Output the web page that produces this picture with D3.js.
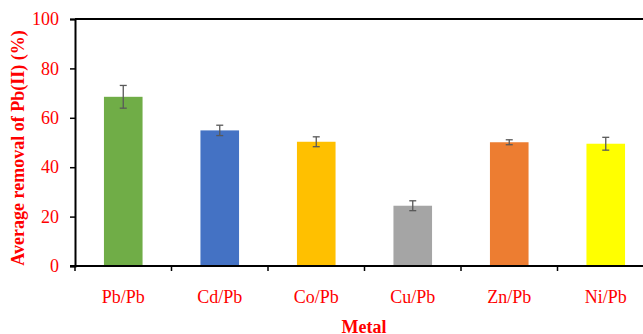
<!DOCTYPE html>
<html>
<head>
<meta charset="utf-8">
<script src="https://cdn.jsdelivr.net/npm/d3@7"></script>
<style>
  body { margin: 0; background: #fff; }
  text { font-family: "Liberation Serif", "Times New Roman", serif; }
</style>
</head>
<body>
<svg id="chart" width="643" height="334"></svg>
<script>
var metals = ["Pb/Pb", "Cd/Pb", "Co/Pb", "Cu/Pb", "Zn/Pb", "Ni/Pb"];
var removal = [68.5, 54.9, 50.3, 24.4, 50.1, 49.5];
var errors = [4.6, 2.1, 2.0, 2.0, 1.0, 2.6];
var barColors = ["#70ad47", "#4472c4", "#ffc000", "#a5a5a5", "#ed7d31", "#ffff00"];
var yTicks = [0, 20, 40, 60, 80, 100];

var svg = d3.select("#chart");
var plotLeft = 75, plotRight = 654, plotTop = 19, plotBottom = 266;

var x = d3.scaleBand().domain(metals).range([plotLeft, plotRight]).paddingInner(0.6).paddingOuter(0.3);
var y = d3.scaleLinear().domain([0, 100]).range([plotBottom, plotTop]);

// bars
svg.selectAll(".bar")
  .data(metals)
  .enter()
  .append("rect")
  .attr("class", "bar")
  .attr("x", d => x(d))
  .attr("width", x.bandwidth())
  .attr("y", (d, i) => y(removal[i]))
  .attr("height", (d, i) => y(0) - y(removal[i]))
  .attr("fill", (d, i) => barColors[i]);

// error bars
var err = svg.selectAll(".err")
  .data(metals)
  .enter()
  .append("g")
  .attr("class", "err")
  .attr("stroke", "#595959")
  .attr("stroke-width", 1.3);

err.append("line")
  .attr("x1", d => x(d) + x.bandwidth() / 2)
  .attr("x2", d => x(d) + x.bandwidth() / 2)
  .attr("y1", (d, i) => y(removal[i] + errors[i]))
  .attr("y2", (d, i) => y(removal[i] - errors[i]));
err.append("line")
  .attr("x1", d => x(d) + x.bandwidth() / 2 - 3.5)
  .attr("x2", d => x(d) + x.bandwidth() / 2 + 3.5)
  .attr("y1", (d, i) => y(removal[i] + errors[i]))
  .attr("y2", (d, i) => y(removal[i] + errors[i]));
err.append("line")
  .attr("x1", d => x(d) + x.bandwidth() / 2 - 3.5)
  .attr("x2", d => x(d) + x.bandwidth() / 2 + 3.5)
  .attr("y1", (d, i) => y(removal[i] - errors[i]))
  .attr("y2", (d, i) => y(removal[i] - errors[i]));

// top border
svg.append("line")
  .attr("x1", plotLeft).attr("x2", 643)
  .attr("y1", y(100)).attr("y2", y(100))
  .attr("stroke", "#000").attr("stroke-width", 2);

// y axis
var yAxis = svg.append("g")
  .attr("transform", "translate(" + plotLeft + ",0)")
  .call(d3.axisLeft(y).tickValues(yTicks).tickSize(5).tickPadding(11));
yAxis.select(".domain").attr("stroke", "#000").attr("stroke-width", 2);
yAxis.selectAll(".tick line").attr("stroke", "#000").attr("stroke-width", 1.5);
yAxis.selectAll(".tick text").attr("fill", "#ff0000").attr("font-size", 18)
  .style("font-family", "Liberation Serif");

// x axis
var xBoundaries = metals.map(d => x(d) - x.step() * x.paddingInner() / 2);
var xAxis = svg.append("g");
xAxis.append("line")
  .attr("x1", plotLeft - 5).attr("x2", 643)
  .attr("y1", plotBottom).attr("y2", plotBottom)
  .attr("stroke", "#000").attr("stroke-width", 2);
xAxis.selectAll(".xtick")
  .data(xBoundaries)
  .enter()
  .append("line")
  .attr("x1", d => d).attr("x2", d => d)
  .attr("y1", plotBottom).attr("y2", plotBottom + 5)
  .attr("stroke", "#000").attr("stroke-width", 1.5);
xAxis.selectAll(".xlabel")
  .data(metals)
  .enter()
  .append("text")
  .attr("x", d => x(d) + x.bandwidth() / 2)
  .attr("y", 303)
  .attr("text-anchor", "middle")
  .attr("fill", "#ff0000")
  .attr("font-size", 18)
  .text(d => d);

// axis titles
svg.append("text")
  .attr("x", 364).attr("y", 333)
  .attr("text-anchor", "middle")
  .attr("fill", "#ff0000")
  .attr("font-size", 18)
  .attr("font-weight", "bold")
  .text("Metal");

svg.append("text")
  .attr("transform", "translate(24,148) rotate(-90)")
  .attr("text-anchor", "middle")
  .attr("fill", "#ff0000")
  .attr("font-size", 18)
  .attr("font-weight", "bold")
  .text("Average removal of Pb(II) (%)");
</script>
</body>
</html>
